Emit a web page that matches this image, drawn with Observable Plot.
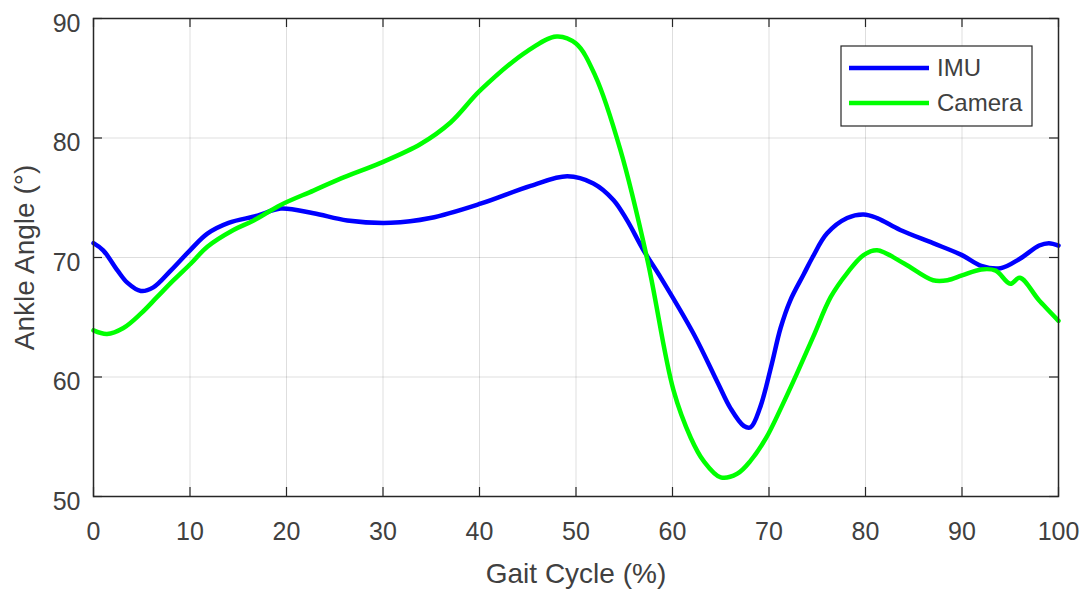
<!DOCTYPE html>
<html>
<head>
<meta charset="utf-8">
<script src="https://cdn.jsdelivr.net/npm/d3@7"></script>
<script src="https://cdn.jsdelivr.net/npm/@observablehq/plot@0.6"></script>
<style>
  html, body { margin: 0; padding: 0; background: #fff; }
  #chart { width: 1088px; height: 594px; }
</style>
</head>
<body>
<div id="chart"></div>
<script>
// Ankle angle over one gait cycle, IMU estimate vs. camera reference
const imuPct = [0, 1, 2.5, 3.5, 4.9, 6.2, 8, 10, 11.8, 14, 17, 19.4, 22.8, 26.3, 30.8, 34.9, 40.1, 45.3, 49.1, 51.8, 53.9, 55.3, 57, 58.8, 62.2, 64.7, 66.0, 67.4, 68.1, 69.1, 70.2, 71.2, 72.2, 73.6, 74.5, 76.0, 78.1, 79.8, 81.2, 83.6, 87, 90, 92, 94, 96, 98, 99, 100];
const imuAngle = [71.2, 70.6, 68.9, 67.9, 67.2, 67.5, 68.9, 70.6, 72.0, 72.9, 73.5, 74.1, 73.7, 73.1, 72.9, 73.3, 74.5, 76.0, 76.8, 76.2, 74.8, 73.1, 70.6, 68.3, 63.6, 59.5, 57.4, 55.9, 55.8, 57.5, 60.8, 64.1, 66.4, 68.6, 70.0, 72.0, 73.3, 73.6, 73.3, 72.3, 71.2, 70.2, 69.3, 69.1, 69.9, 71.0, 71.2, 71.0];

const camPct = [0, 1.4, 3.1, 4.9, 6.6, 8.3, 10.1, 11.8, 14.5, 16.6, 19.4, 22.8, 25.6, 29.7, 33.9, 37, 40.1, 45, 48, 50, 52, 54.6, 57.4, 60.1, 61.9, 63.2, 65, 66.7, 68.1, 69.7, 71.3, 72.9, 74.6, 76.4, 78.1, 79.8, 81.2, 84, 87, 88.5, 90, 92, 93.5, 95, 96, 98, 100];
const camAngle = [63.9, 63.6, 64.1, 65.3, 66.7, 68.1, 69.5, 70.9, 72.3, 73.1, 74.4, 75.6, 76.6, 77.9, 79.5, 81.3, 84.0, 87.3, 88.5, 87.9, 85.2, 79.0, 69.8, 58.9, 54.9, 53.0, 51.6, 51.9, 53.0, 54.9, 57.5, 60.3, 63.4, 66.7, 68.7, 70.2, 70.6, 69.5, 68.1, 68.1, 68.5, 69.0, 68.9, 67.8, 68.3, 66.4, 64.7];

const xTicks = [0, 10, 20, 30, 40, 50, 60, 70, 80, 90, 100];
const yTicks = [50, 60, 70, 80, 90];
const seriesNames = ["IMU", "Camera"];
const seriesColors = ["#0000ff", "#00ff00"];
const xLabel = "Gait Cycle (%)";
const yLabel = "Ankle Angle (°)";

const imuRows = imuPct.map((p, i) => ({pct: p, angle: imuAngle[i]}));
const camRows = camPct.map((p, i) => ({pct: p, angle: camAngle[i]}));

const font = "'Liberation Sans', Arial, Helvetica, sans-serif";
const ink = "#262626";
const textInk = "#404040";

const W = 1088, H = 594;
const M = {left: 93, right: 30, top: 18, bottom: 98};
const frameW = W - M.left - M.right;
const frameH = H - M.top - M.bottom;
const tickLen = 9; // inward tick length, px

const svg = Plot.plot({
  width: W,
  height: H,
  marginLeft: M.left,
  marginRight: M.right,
  marginTop: M.top,
  marginBottom: M.bottom,
  style: {fontFamily: font, fontSize: "25px", color: textInk, background: "#fff", overflow: "visible"},
  x: {domain: [0, 100]},
  y: {domain: [50, 90]},
  marks: [
    Plot.gridX(xTicks, {stroke: "#000", strokeOpacity: 0.13, strokeWidth: 1}),
    Plot.gridY(yTicks, {stroke: "#000", strokeOpacity: 0.13, strokeWidth: 1}),
    Plot.line(imuRows, {x: "pct", y: "angle", stroke: seriesColors[0], strokeWidth: 4.5, curve: "catmull-rom"}),
    Plot.line(camRows, {x: "pct", y: "angle", stroke: seriesColors[1], strokeWidth: 4.5, curve: "catmull-rom"}),
    Plot.frame({stroke: ink, strokeWidth: 1.5}),
    // inward ticks on all four sides
    Plot.tickX(xTicks, {x: d => d, insetTop: frameH - tickLen, stroke: ink, strokeWidth: 1.2}),
    Plot.tickX(xTicks, {x: d => d, insetBottom: frameH - tickLen, stroke: ink, strokeWidth: 1.2}),
    Plot.tickY(yTicks, {y: d => d, insetRight: frameW - tickLen, stroke: ink, strokeWidth: 1.2}),
    Plot.tickY(yTicks, {y: d => d, insetLeft: frameW - tickLen, stroke: ink, strokeWidth: 1.2}),
    Plot.axisX(xTicks, {anchor: "bottom", tickSize: 0, tickPadding: 26, fill: textInk, fontSize: 25, label: null}),
    Plot.axisY(yTicks, {anchor: "left", tickSize: 0, tickPadding: 13, dy: 5, fill: textInk, fontSize: 25, label: null}),
    Plot.text([xLabel], {frameAnchor: "bottom", dy: 86, lineAnchor: "bottom", textAnchor: "middle", fontSize: 28, fill: textInk}),
    Plot.text([yLabel], {frameAnchor: "left", dx: -60, rotate: -90, lineAnchor: "bottom", textAnchor: "middle", fontSize: 28, fill: textInk})
  ]
});

document.getElementById("chart").appendChild(svg);

// Legend box in the upper-right corner of the frame
const sx = svg.scale("x"), sy = svg.scale("y");
const frameRight = sx.range[1], frameTop = sy.range[1];
const box = {w: 191, h: 80, right: 26, top: 28};
const bx = frameRight - box.right - box.w, by = frameTop + box.top;
const g = d3.select(svg).append("g")
  .attr("font-family", font).attr("font-size", 24).attr("text-anchor", "start");
g.append("rect")
  .attr("x", bx).attr("y", by).attr("width", box.w).attr("height", box.h)
  .attr("fill", "#fff").attr("stroke", ink).attr("stroke-width", 1.2);
seriesNames.forEach((name, i) => {
  const yy = by + 22 + i * 35;
  g.append("line")
    .attr("x1", bx + 8).attr("x2", bx + 88).attr("y1", yy).attr("y2", yy)
    .attr("stroke", seriesColors[i]).attr("stroke-width", 4.5);
  g.append("text")
    .attr("x", bx + 96).attr("y", yy).attr("dy", "0.35em")
    .attr("fill", textInk).text(name);
});
</script>
</body>
</html>
